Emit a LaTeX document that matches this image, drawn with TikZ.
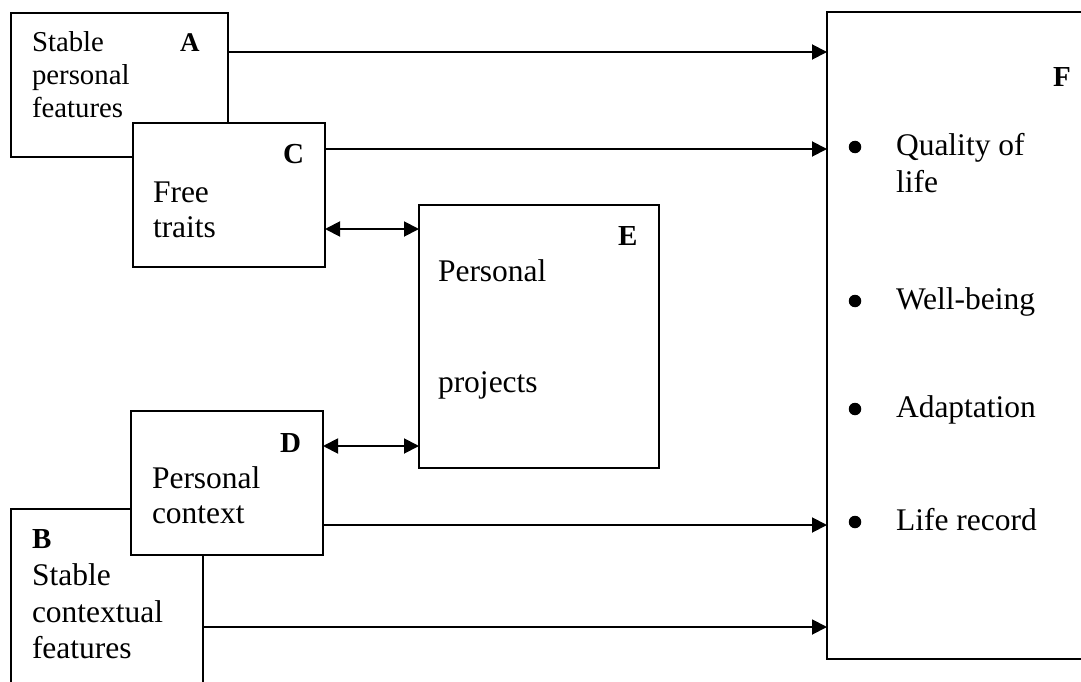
\documentclass[tikz,border=0pt]{standalone}
\usepackage{fontspec}
\setmainfont{Liberation Serif}
\usetikzlibrary{arrows.meta}
\begin{document}
\begin{tikzpicture}[x=1pt,y=-1pt,
  box/.style={draw,line width=1.9pt,fill=white,inner sep=0pt,outer sep=0pt,anchor=north west},
  txt/.style={anchor=base west,inner sep=0pt,outer sep=0pt,font=\fontsize{31.5}{37}\selectfont},
  smalltxt/.style={txt,font=\fontsize{28.8}{33}\selectfont},
  lett/.style={anchor=base west,inner sep=0pt,outer sep=0pt,font=\fontsize{29}{34}\selectfont\bfseries},
  bul/.style={circle,fill=black,inner sep=0pt,minimum size=12.5pt},
  arr/.style={line width=1.9pt,-{Triangle[length=15pt,width=15pt]}},
  darr/.style={line width=1.9pt,{Triangle[length=15pt,width=15pt]}-{Triangle[length=15pt,width=15pt]}}]
\useasboundingbox (0,0) rectangle (1081,682);
\clip (0,0) rectangle (1081,682);
% boxes
\node[box,minimum width=217pt,minimum height=144pt] (A) at (11,13) {};
\node[box,minimum width=192pt,minimum height=144pt] (C) at (133,123) {};
\node[box,minimum width=192pt,minimum height=210pt] (B) at (11,509) {};
\node[box,minimum width=192pt,minimum height=144pt] (D) at (131,411) {};
\node[box,minimum width=240pt,minimum height=263pt] (E) at (419,205) {};
\node[box,minimum width=300pt,minimum height=647pt] (F) at (827,12) {};
% texts A
\node[smalltxt] (a1) at (32,52) {Stable};
\node[smalltxt] (a2) at (32,85) {personal};
\node[smalltxt] (a3) at (32,118) {features};
\node[lett,font=\fontsize{27}{32}\selectfont\bfseries] (aL) at (180,52) {A};
% texts C
\node[lett] (cL) at (283,163) {C};
\node[txt] (c1) at (153,202) {Free};
\node[txt] (c2) at (153,237) {traits};
% texts D
\node[lett] (dL) at (280,452) {D};
\node[txt] (d1) at (152,488) {Personal};
\node[txt] (d2) at (152,523) {context};
% texts B
\node[lett] (bL) at (32,548) {B};
\node[txt] (b1) at (32,585) {Stable};
\node[txt] (b2) at (32,622) {contextual};
\node[txt] (b3) at (32,658) {features};
% texts E
\node[lett] (eL) at (618,245) {E};
\node[txt] (e1) at (438,281) {Personal};
\node[txt] (e2) at (438,392) {projects};
% texts F
\node[lett] (fL) at (1053,87) {F};
\node[bul] (fb1) at (855,147) {};
\node[txt] (f1) at (896,155) {Quality of};
\node[txt] (f1b) at (896,192) {life};
\node[bul] (fb2) at (855,301) {};
\node[txt] (f2) at (896,309) {Well-being};
\node[bul] (fb3) at (855,409) {};
\node[txt] (f3) at (896,417) {Adaptation};
\node[bul] (fb4) at (855,522) {};
\node[txt] (f4) at (896,530) {Life record};
% levels
\coordinate (yA) at (0,52);
\coordinate (yC) at (0,149);
\coordinate (yCE) at (0,229);
\coordinate (yDE) at (0,446);
\coordinate (yD) at (0,525);
\coordinate (yB) at (0,627);
% connectors
\draw[arr] (A.east |- yA) -- (F.west |- yA);
\draw[arr] (C.east |- yC) -- (F.west |- yC);
\draw[darr] (C.east |- yCE) -- (E.west |- yCE);
\draw[darr] (D.east |- yDE) -- (E.west |- yDE);
\draw[arr] (D.east |- yD) -- (F.west |- yD);
\draw[arr] (B.east |- yB) -- (F.west |- yB);
\end{tikzpicture}
\end{document}
